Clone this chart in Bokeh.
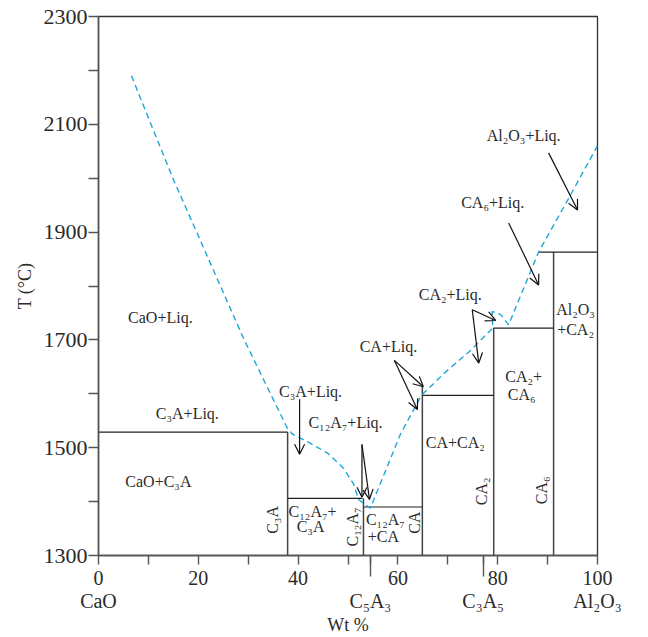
from bokeh.plotting import figure
from bokeh.models import (ColumnDataSource, Range1d, FixedTicker, Arrow, OpenHead)
from bokeh.embed import file_html
from bokeh.resources import INLINE
import math

# ---------------- data (wt % Al2O3, temperature °C) ----------------
# liquidus (dashed curve)
liq_x = [6.6, 14.9, 29.2, 37.9, 38.9, 42.5, 45.9, 49.1, 51.1, 52.1, 54.5,
         60.5, 64.7, 69.5, 74.5, 79.0, 78.9, 80.6, 82.2, 88.2, 94.0, 100.0]
liq_t = [2190, 2000, 1700, 1535, 1525, 1508, 1490, 1462, 1433, 1404, 1388,
         1525, 1597, 1640, 1680, 1722, 1753, 1747, 1728, 1863, 1959, 2060]

# compounds: composition and upper end of their vertical line
comp_names = ["C3A", "C12A7", "CA", "CA2", "CA6"]
comp_wt = [37.9, 53.1, 64.9, 79.2, 91.2]
comp_top = [1529, 1406, 1613, 1722, 1863]

# isotherms (horizontal boundaries)
iso_t = [1529, 1406, 1390, 1597, 1722, 1863]
iso_x0 = [0.0, 37.9, 53.1, 64.9, 79.2, 88.2]
iso_x1 = [37.9, 52.9, 64.9, 79.2, 91.2, 100.0]

# axis ticks
x_ticks = [0, 10, 20, 30, 40, 50, 54.5, 60, 70, 77.1, 80, 90, 100]
x_tick_labels = ["0\nCaO", "", "20", "", "40", "", " \nC\u2085A\u2083", "60", "",
                 " \nC\u2083A\u2085", "80", "", "100\nAl\u2082O\u2083"]
x_long_ticks = [54.5, 77.1]
y_major = [1300, 1500, 1700, 1900, 2100, 2300]
y_minor = [1400, 1600, 1800, 2000, 2200]

# region labels
lab_text = ["CaO+Liq.", "C\u2083A+Liq.", "CaO+C\u2083A", "C\u2083A+Liq.",
            "C\u2081\u2082A\u2087+Liq.", "C\u2081\u2082A\u2087+", "C\u2083A",
            "C\u2083A", "C\u2081\u2082A\u2087", "C\u2081\u2082A\u2087", "+CA", "CA",
            "CA+Liq.", "CA+CA\u2082", "CA\u2082", "CA\u2082+", "CA\u2086", "CA\u2086",
            "Al\u2082O\u2083", "+CA\u2082", "CA\u2082+Liq.", "CA\u2086+Liq.",
            "Al\u2082O\u2083+Liq."]
lab_x = [12.4, 17.8, 12.0, 42.5, 49.5, 42.9, 42.5, 34.9, 50.9, 57.5, 57.1, 63.3,
         58.1, 71.5, 76.8, 85.2, 84.8, 88.8, 95.6, 95.6, 70.5, 79.0, 85.2]
lab_t = [1741, 1563, 1437, 1605, 1547, 1381, 1354, 1366, 1353, 1366, 1336, 1361,
         1688, 1510, 1419, 1632, 1598, 1421, 1757, 1719, 1784, 1954, 2079]
lab_rot = [0, 0, 0, 0, 0, 0, 0, 1, 1, 0, 0, 1,
           0, 0, 1, 0, 0, 1, 0, 0, 0, 0, 0]

# pointer arrows
arr_x0 = [40.3, 52.8, 52.8, 59.3, 59.3, 74.9, 74.9, 82.2, 90.2]
arr_t0 = [1590, 1506, 1506, 1662, 1662, 1756, 1756, 1917, 2047]
arr_x1 = [40.3, 52.8, 54.3, 65.1, 63.9, 79.6, 76.2, 88.2, 96.0]
arr_t1 = [1488, 1408, 1404, 1613, 1571, 1736, 1657, 1802, 1941]

# ---------------- figure ----------------
FONT = "Liberation Serif"
INK = "#2a2a2a"
AX = "#555555"

p = figure(width=640, height=637, output_backend="svg", toolbar_location=None,
           x_range=Range1d(0, 100), y_range=Range1d(1300, 2300),
           min_border_left=98, min_border_right=43, min_border_top=16,
           min_border_bottom=81)
p.grid.visible = False
p.background_fill_color = "white"
p.border_fill_color = "white"
p.outline_line_color = "#333333"
p.outline_line_width = 1.3

# x axis
xa = p.xaxis[0]
xa.ticker = FixedTicker(ticks=x_ticks, minor_ticks=x_long_ticks)
xa.major_label_overrides = {t: l for t, l in zip(x_ticks, x_tick_labels)}
xa.major_tick_out = 9
xa.major_tick_in = 0
xa.minor_tick_out = 21
xa.minor_tick_in = 0
xa.major_label_standoff = -10
xa.major_label_text_font = FONT
xa.major_label_text_font_size = "20px"
xa.major_label_text_color = INK
xa.major_label_text_line_height = 1.05
xa.axis_label = "Wt %"
xa.axis_label_text_font = FONT
xa.axis_label_text_font_size = "18px"
xa.axis_label_text_font_style = "normal"
xa.axis_label_text_color = INK
xa.axis_label_standoff = 0

# y axis
ya = p.yaxis[0]
ya.ticker = FixedTicker(ticks=y_major, minor_ticks=y_minor)
ya.major_tick_out = 10
ya.major_tick_in = 0
ya.minor_tick_out = 10
ya.minor_tick_in = 0
ya.major_label_standoff = 1
ya.major_label_text_font = FONT
ya.major_label_text_font_size = "22px"
ya.major_label_text_color = INK
ya.axis_label = "T (\u00b0C)"
ya.axis_label_text_font = FONT
ya.axis_label_text_font_size = "18px"
ya.axis_label_text_font_style = "normal"
ya.axis_label_text_color = INK
ya.axis_label_standoff = 6

for ax in (xa, ya):
    ax.axis_line_color = AX
    ax.axis_line_width = 1.6
    ax.major_tick_line_color = AX
    ax.major_tick_line_width = 1.4
    ax.minor_tick_line_color = AX
    ax.minor_tick_line_width = 1.4

# compound verticals
p.segment(x0=comp_wt, y0=[1300] * len(comp_wt), x1=comp_wt, y1=comp_top,
          line_color="#444444", line_width=1.5)
# isotherms
p.segment(x0=iso_x0, y0=iso_t, x1=iso_x1, y1=iso_t,
          line_color="#222222", line_width=1.2)

# liquidus
p.line(liq_x, liq_t, line_color="#1ea7d8", line_width=1.4, line_dash="6 4")

# arrows
asrc = ColumnDataSource(dict(x0=arr_x0, y0=arr_t0, x1=arr_x1, y1=arr_t1))
p.add_layout(Arrow(source=asrc, x_start="x0", y_start="y0", x_end="x1", y_end="y1",
                   line_color="#111111", line_width=1.2,
                   end=OpenHead(size=10, line_color="#111111", line_width=1.2)))

# region labels
lsrc = ColumnDataSource(dict(x=lab_x, y=lab_t, text=lab_text,
                             angle=[r * math.pi / 2 for r in lab_rot]))
p.text(x="x", y="y", text="text", angle="angle", source=lsrc,
       text_font={"value": FONT}, text_font_size="16px", text_color=INK,
       text_align="center", text_baseline="middle")

open("out.html", "w").write(file_html(p, INLINE))
